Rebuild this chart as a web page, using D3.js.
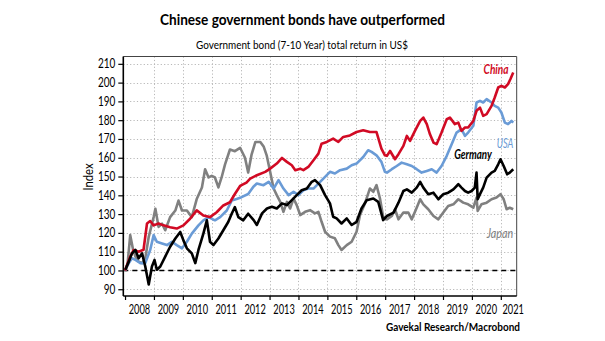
<!DOCTYPE html>
<html>
<head>
<meta charset="utf-8">
<script src="https://cdn.jsdelivr.net/npm/d3@7"></script>
<style>
  html, body { margin: 0; padding: 0; background: #fff; }
  svg { display: block; }
</style>
</head>
<body>
<svg id="chart" width="605" height="341"></svg>
<script>
// ---------- DATA (decimal year, index value) ----------
const seriesNames = ["China", "USA", "Germany", "Japan"];
const yearTicks = d3.range(2008, 2022);
const valueTicks = d3.range(90, 211, 10);

const china = [[2008.0,100],[2008.18,107.4],[2008.30,110.9],[2008.47,110],[2008.64,111],[2008.76,125],[2008.87,126.3],[2008.99,124],[2009.16,125],[2009.33,124],[2009.56,123],[2009.79,122.3],[2010.02,124],[2010.25,127.5],[2010.48,132],[2010.71,129.3],[2010.94,128.4],[2011.17,131],[2011.4,134.6],[2011.63,136.3],[2011.8,140.7],[2011.98,145],[2012.2,146.8],[2012.33,148.9],[2012.56,150.7],[2012.85,152.5],[2013.02,154.2],[2013.25,156.9],[2013.43,159.9],[2013.6,157.8],[2013.77,156],[2013.89,153.4],[2014.06,154.2],[2014.17,153.4],[2014.34,155.1],[2014.52,158.7],[2014.69,162.2],[2014.8,167.5],[2014.98,168.4],[2015.2,170.2],[2015.38,168.4],[2015.55,171.1],[2015.78,171.9],[2016.01,173.7],[2016.24,174.6],[2016.47,173.7],[2016.7,173.7],[2016.87,164.9],[2016.99,161.3],[2017.06,161],[2017.17,163.6],[2017.34,159.2],[2017.46,161.9],[2017.63,166.3],[2017.75,171.6],[2017.86,169],[2018.03,174.3],[2018.21,179.6],[2018.32,181.4],[2018.44,177.9],[2018.55,172.5],[2018.67,168.1],[2018.78,167.2],[2018.95,173.4],[2019.13,180.5],[2019.24,181.4],[2019.41,177.9],[2019.53,178.7],[2019.64,174.3],[2019.76,176.1],[2019.87,176.1],[2020.05,179.6],[2020.16,185],[2020.28,186.7],[2020.39,182.3],[2020.51,183.2],[2020.68,187.6],[2020.79,192.1],[2020.91,197.4],[2021.02,198.3],[2021.14,197.4],[2021.25,199.2],[2021.33,201.8],[2021.43,205.4]];

const usa = [[2008.0,100],[2008.13,103.9],[2008.24,106.5],[2008.36,105.6],[2008.53,103.9],[2008.7,103.9],[2008.87,110.9],[2008.99,118.8],[2009.1,115.3],[2009.28,114.4],[2009.45,113.5],[2009.62,115.3],[2009.79,113.5],[2009.97,111.8],[2010.14,115.3],[2010.31,119.6],[2010.54,124],[2010.71,126.7],[2010.89,128.4],[2011.11,126.7],[2011.29,128.4],[2011.52,131.9],[2011.69,137.2],[2011.86,138],[2012.03,139],[2012.26,140.7],[2012.44,144.6],[2012.56,146.3],[2012.79,145.4],[2012.97,147.2],[2013.14,143.6],[2013.31,148.1],[2013.48,143.6],[2013.66,140.1],[2013.83,141.9],[2014.0,140.1],[2014.17,142.7],[2014.34,143.6],[2014.52,143.6],[2014.75,147.2],[2014.92,149.8],[2015.09,152.5],[2015.26,151.6],[2015.44,153.4],[2015.67,154.2],[2015.84,156],[2016.01,156.9],[2016.24,160.4],[2016.41,164],[2016.53,163.1],[2016.7,161.3],[2016.87,157.8],[2016.99,152.5],[2017.06,152.1],[2017.23,153.9],[2017.4,155.6],[2017.57,157.4],[2017.75,156.5],[2017.92,155.6],[2018.09,153.9],[2018.26,152.1],[2018.44,153],[2018.61,153.9],[2018.78,152.1],[2018.95,155.6],[2019.13,161],[2019.3,167.2],[2019.47,173.4],[2019.64,175.2],[2019.76,171.6],[2019.87,173.4],[2020.05,177],[2020.16,189.4],[2020.28,190.3],[2020.39,189.4],[2020.51,191.2],[2020.68,189.4],[2020.79,187.6],[2020.91,186.7],[2021.02,184.1],[2021.14,178.7],[2021.25,177.9],[2021.37,179.6],[2021.43,178.7]];

const germany = [[2008.01,100.4],[2008.13,104.7],[2008.24,109.1],[2008.36,110.9],[2008.47,106.5],[2008.59,109.1],[2008.7,102.1],[2008.82,92.5],[2008.93,102.1],[2009.02,105.6],[2009.1,100.4],[2009.22,102.1],[2009.39,107.4],[2009.56,112.6],[2009.74,117],[2009.91,120.5],[2010.02,116],[2010.14,111.8],[2010.31,109.1],[2010.43,103.9],[2010.54,110.9],[2010.71,119.6],[2010.83,126.7],[2010.94,115.3],[2011.06,113.5],[2011.23,117],[2011.4,121.4],[2011.57,125.8],[2011.69,130.2],[2011.8,133.7],[2011.92,128.4],[2012.09,126.7],[2012.26,130.2],[2012.45,126.8],[2012.56,124.2],[2012.74,130.4],[2012.91,133],[2013.08,133.9],[2013.25,133],[2013.43,135.7],[2013.6,134.8],[2013.77,137.4],[2013.94,140.1],[2014.11,142.7],[2014.29,143.6],[2014.46,147.2],[2014.57,148.1],[2014.75,145.4],[2014.92,140.1],[2015.09,135.7],[2015.2,128.6],[2015.32,127.7],[2015.49,125],[2015.67,127.7],[2015.84,124.2],[2016.01,125.9],[2016.18,133],[2016.36,137.4],[2016.59,138.3],[2016.76,136.5],[2016.93,126.8],[2017.06,129],[2017.29,130.8],[2017.46,136.1],[2017.63,142.3],[2017.75,143.2],[2017.92,141.4],[2018.09,144.1],[2018.21,147.1],[2018.32,144.1],[2018.49,140.6],[2018.67,141.4],[2018.84,137.9],[2019.01,140.6],[2019.18,141.4],[2019.36,143.2],[2019.53,145.9],[2019.64,144.1],[2019.76,142.3],[2019.87,141.4],[2019.99,142.3],[2020.1,144.1],[2020.16,152.1],[2020.2,137.9],[2020.28,140.6],[2020.39,144.1],[2020.51,149.4],[2020.68,152.1],[2020.79,153],[2020.91,156.5],[2020.99,159.2],[2021.1,155.6],[2021.22,151.2],[2021.31,152.1],[2021.43,153.9]];

const japan = [[2008.01,99.5],[2008.09,103.9],[2008.18,118.8],[2008.28,110.9],[2008.36,107.4],[2008.47,104.7],[2008.59,103.9],[2008.7,106.5],[2008.82,117.9],[2008.99,128.4],[2009.05,132.8],[2009.16,123.2],[2009.28,124.9],[2009.39,121.4],[2009.56,128.4],[2009.74,131.9],[2009.85,137.2],[2009.97,131.9],[2010.14,131.9],[2010.31,128.4],[2010.48,138],[2010.66,144.2],[2010.77,153.9],[2010.89,149.5],[2011.0,150.4],[2011.11,149.5],[2011.23,144.2],[2011.34,149.5],[2011.46,156.5],[2011.63,164.4],[2011.8,163.5],[2011.98,165.3],[2012.15,160],[2012.26,152.1],[2012.38,161.8],[2012.51,168.4],[2012.68,168.4],[2012.8,165.8],[2012.9,161.3],[2013.02,152.5],[2013.14,143.6],[2013.25,140.1],[2013.37,136.5],[2013.48,131.2],[2013.6,136.5],[2013.71,133],[2013.83,138.3],[2013.94,134.8],[2014.06,129.5],[2014.23,131.2],[2014.4,132.1],[2014.57,130.4],[2014.69,131.2],[2014.8,125.9],[2014.92,120.6],[2015.09,118],[2015.26,117.1],[2015.38,113.5],[2015.49,110.9],[2015.67,113.5],[2015.84,115.3],[2016.01,120.6],[2016.13,129.5],[2016.3,135.7],[2016.47,143.6],[2016.59,141.9],[2016.7,145.4],[2016.82,138.3],[2016.93,128.6],[2017.06,127.2],[2017.23,129],[2017.34,132.6],[2017.46,127.2],[2017.63,130.8],[2017.8,130.8],[2017.92,127.2],[2018.09,133.4],[2018.21,137.9],[2018.32,135.2],[2018.49,132.6],[2018.67,129],[2018.84,127.2],[2019.01,130.8],[2019.18,134.3],[2019.36,135.2],[2019.53,137.9],[2019.7,136.1],[2019.87,135.2],[2020.05,133.4],[2020.16,138.8],[2020.2,131.7],[2020.33,135.2],[2020.51,136.1],[2020.68,137.9],[2020.85,138.8],[2020.99,140.6],[2021.1,137.9],[2021.2,132.6],[2021.31,133.4],[2021.43,132.6]];

const baselineValue = 100;

// ---------- LAYOUT / STYLE ----------
const plot = { left: 123.3, right: 516.7, top: 56.5, bottom: 296 };
const FONT = "Lato, 'Open Sans', sans-serif";
const colors = { China: "#d10a24", USA: "#6a9bd6", Germany: "#000000", Japan: "#808080" };
const seriesData = { China: china, USA: usa, Germany: germany, Japan: japan };

const svg = d3.select("#chart");

const x = d3.scaleLinear().domain([2007.94, 2021.55]).range([plot.left, plot.right]);
const y = d3.scaleLinear().domain([86.4, 213.9]).range([plot.bottom, plot.top]);

// condense text horizontally (imitating a narrow typeface)
function condense(sel, factor) {
  sel.each(function () {
    const w = this.getComputedTextLength();
    if (w > 0) d3.select(this).attr("textLength", (w * factor).toFixed(2)).attr("lengthAdjust", "spacingAndGlyphs");
  });
}
function toWidth(sel, target) {
  sel.attr("textLength", target).attr("lengthAdjust", "spacingAndGlyphs");
}

// grid
const grid = svg.append("g").attr("stroke", "#b8b8b8").attr("stroke-width", 1).attr("stroke-dasharray", "1.2,2.2");
grid.selectAll("line.h").data(valueTicks).join("line")
  .attr("x1", plot.left).attr("x2", plot.right)
  .attr("y1", d => Math.round(y(d)) + 0.5).attr("y2", d => Math.round(y(d)) + 0.5);
grid.selectAll("line.v").data(yearTicks.slice(1)).join("line")
  .attr("y1", plot.top).attr("y2", plot.bottom)
  .attr("x1", d => Math.round(x(d)) + 0.5).attr("x2", d => Math.round(x(d)) + 0.5);

// baseline 100 dashed
svg.append("line")
  .attr("x1", plot.left).attr("x2", plot.right)
  .attr("y1", y(baselineValue)).attr("y2", y(baselineValue))
  .attr("stroke", "#000").attr("stroke-width", 1.6).attr("stroke-dasharray", "5,4");

// lines
const line = d3.line().x(d => x(d[0])).y(d => y(d[1])).curve(d3.curveLinear);
const drawOrder = ["Japan", "USA", "China", "Germany"];
svg.append("g").selectAll("path").data(drawOrder).join("path")
  .attr("d", k => line(seriesData[k]))
  .attr("fill", "none")
  .attr("stroke", k => colors[k])
  .attr("stroke-width", 2.6)
  .attr("stroke-linejoin", "round");

// frame (top/right)
svg.append("line").attr("x1", plot.left).attr("x2", plot.right).attr("y1", plot.top).attr("y2", plot.top)
  .attr("stroke", "#444").attr("stroke-width", 1);
svg.append("line").attr("x1", plot.right).attr("x2", plot.right).attr("y1", plot.top).attr("y2", plot.bottom)
  .attr("stroke", "#444").attr("stroke-width", 1);

// y axis
const yAxis = d3.axisLeft(y).tickValues(valueTicks).tickSize(5).tickPadding(3).tickFormat(d3.format("d"));
const gy = svg.append("g").attr("transform", `translate(${plot.left},0)`).call(yAxis);
gy.select(".domain").attr("d", `M0,${plot.top}V${plot.bottom}`).attr("stroke", "#000").attr("stroke-width", 1.6);
gy.selectAll(".tick line").attr("stroke", "#000").attr("stroke-width", 1.2);
gy.selectAll(".tick text").attr("font-family", FONT).attr("font-size", 12.5).attr("fill", "#000");
condense(gy.selectAll(".tick text"), 0.8);

// x axis (ticks at year starts, labels mid-year)
const xAxis = d3.axisBottom(x).tickValues(yearTicks).tickSize(4).tickFormat("");
const gx = svg.append("g").attr("transform", `translate(0,${plot.bottom})`).call(xAxis);
gx.select(".domain").attr("d", `M${plot.left},0H${plot.right}`).attr("stroke", "#000").attr("stroke-width", 1.6);
gx.selectAll(".tick line").attr("stroke", "#000").attr("stroke-width", 1.2);
const xl = svg.append("g").selectAll("text").data(yearTicks).join("text")
  .attr("x", d => Math.min(x(d + 0.5), plot.right - 3.5))
  .attr("y", 313.5)
  .attr("text-anchor", "middle")
  .attr("font-family", FONT).attr("font-size", 12.5).attr("fill", "#000")
  .text(d => d);
condense(xl, 0.74);

// y title
const yt = svg.append("text")
  .attr("transform", `translate(93,177) rotate(-90)`)
  .attr("text-anchor", "middle")
  .attr("font-family", FONT).attr("font-size", 12.5).attr("fill", "#000")
  .text("Index");
toWidth(yt, 27);

// titles
const t1 = svg.append("text").attr("x", 302.5).attr("y", 24.5).attr("text-anchor", "middle")
  .attr("font-family", FONT).attr("font-weight", "bold").attr("font-size", 15.5).attr("fill", "#000")
  .text("Chinese government bonds have outperformed");
toWidth(t1, 285);
const t2 = svg.append("text").attr("x", 302).attr("y", 49).attr("text-anchor", "middle")
  .attr("font-family", FONT).attr("font-size", 12).attr("fill", "#000")
  .text("Government bond (7-10 Year) total return in US$");
toWidth(t2, 212);
const t3 = svg.append("text").attr("x", 520).attr("y", 331).attr("text-anchor", "end")
  .attr("font-family", FONT).attr("font-weight", "bold").attr("font-size", 11.5).attr("fill", "#000")
  .text("Gavekal Research/Macrobond");
toWidth(t3, 134);

// series labels
const labels = [
  { name: "China", t: 2021.27, v: 204.5, weight: "bold", w: 25 },
  { name: "USA", t: 2021.43, v: 165.4, weight: "normal", w: 16.6 },
  { name: "Germany", t: 2020.69, v: 159.4, weight: "bold", w: 37.7 },
  { name: "Japan", t: 2021.43, v: 117.3, weight: "normal", w: 26.6 }
];
svg.append("g").selectAll("text").data(labels).join("text")
  .attr("x", d => x(d.t)).attr("y", d => y(d.v))
  .attr("text-anchor", "end")
  .attr("font-family", FONT).attr("font-style", "italic").attr("font-weight", d => d.weight)
  .attr("font-size", 12.5)
  .attr("fill", d => colors[d.name])
  .attr("textLength", d => d.w).attr("lengthAdjust", "spacingAndGlyphs")
  .text(d => d.name);
</script>
</body>
</html>
